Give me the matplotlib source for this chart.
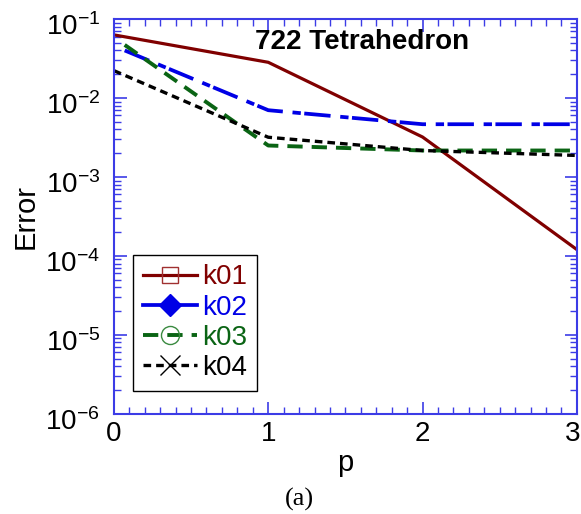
import matplotlib.pyplot as plt
import matplotlib.ticker as mticker
import matplotlib.transforms as mtransforms
from matplotlib.lines import Line2D
import numpy as np

plt.rcParams['font.family'] = ['Liberation Sans', 'DejaVu Sans']
plt.rcParams['mathtext.fontset'] = 'custom'
plt.rcParams['mathtext.rm'] = 'Liberation Sans'
plt.rcParams['lines.scale_dashes'] = False

# data
p_k01 = [0, 1, 2, 3]
err_k01 = [0.063, 0.0283, 0.0032, 0.00012]
p_k02 = [0.07, 1, 2, 3]
err_k02 = [0.040, 0.0070, 0.00465, 0.00465]
p_k03 = [0.07, 1, 2, 3]
err_k03 = [0.047, 0.0025, 0.00216, 0.00216]
p_k04 = [0, 1, 2, 3]
err_k04 = [0.0222, 0.00318, 0.00216, 0.00187]

labels = ["k01", "k02", "k03", "k04"]
x_ticks = [0, 1, 2, 3]
colors = ["#800000", "#0000e6", "#0a6414", "black"]
axis_blue = "#3c3ce6"
dash_k02 = (19, 7, 6, 2.5)
dash_k03 = (11, 6.5)
dash_k04 = (5.5, 3.6)

fig, ax = plt.subplots(figsize=(5.81, 5.14), dpi=100)
fig.subplots_adjust(left=0.196, right=0.993, top=0.963, bottom=0.195)

ax.plot(p_k01, err_k01, color=colors[0], lw=2.3, linestyle="-")
ax.plot(p_k02, err_k02, color=colors[1], lw=2.7, dashes=dash_k02)
ax.plot(p_k03, err_k03, color=colors[2], lw=2.8, dashes=dash_k03)
ax.plot(p_k04, err_k04, color=colors[3], lw=2.4, dashes=dash_k04)

ax.set_yscale("log")
ax.set_xlim(0, 3)
ax.set_ylim(1e-6, 1e-1)

ax.set_xticks(x_ticks)
ax.xaxis.set_minor_locator(mticker.MultipleLocator(0.1))
ax.yaxis.set_major_locator(mticker.LogLocator(base=10, numticks=10))
ax.yaxis.set_minor_locator(mticker.LogLocator(base=10, subs=np.arange(2, 10), numticks=10))
ax.yaxis.set_minor_formatter(mticker.NullFormatter())
ax.yaxis.set_major_formatter(mticker.FuncFormatter(
    lambda v, pos: r"$\mathregular{10^{%d}}$" % int(round(np.log10(v)))))

ax.tick_params(which="both", direction="in", top=True, right=True,
               color=axis_blue, labelsize=20)
ax.tick_params(axis="x", pad=5)
ax.tick_params(axis="y", pad=10)
ax.tick_params(which="major", length=9, width=1.2)
ax.tick_params(which="minor", length=5, width=1.0)
for s in ax.spines.values():
    s.set_color(axis_blue)
    s.set_linewidth(1.5)

# y labels in the reference sit a little below their ticks
shift = mtransforms.ScaledTranslation(0, -4 / 72, fig.dpi_scale_trans)
for lab in ax.get_yticklabels():
    lab.set_transform(lab.get_transform() + shift)
# the last x label is nudged left so it stays inside the figure
last = ax.get_xticklabels()[-1]
last.set_transform(last.get_transform() +
                   mtransforms.ScaledTranslation(-3 / 72, 0, fig.dpi_scale_trans))

ax.set_xlabel("p", fontsize=21, labelpad=2)
ax.set_ylabel("Error", fontsize=21, labelpad=4)
ax.text(0.536, 0.942, "722 Tetrahedron", transform=ax.transAxes, ha="center",
        va="center", fontsize=20, fontweight="bold")

handles = [
    Line2D([], [], color=colors[0], lw=2.3, marker="s", markersize=12,
           markerfacecolor="none", markeredgecolor="#a03030", markeredgewidth=1),
    Line2D([], [], color=colors[1], lw=2.7, marker="D", markersize=11,
           markerfacecolor=colors[1], markeredgecolor=colors[1]),
    Line2D([], [], color=colors[2], lw=2.8, dashes=dash_k03, marker="o",
           markersize=13, markerfacecolor="none", markeredgecolor="#3a8a40",
           markeredgewidth=1),
    Line2D([], [], color=colors[3], lw=2.4, dashes=dash_k04, marker="x",
           markersize=14, markeredgewidth=1),
]
leg = ax.legend(handles, labels, loc="upper left", bbox_to_anchor=(0.041, 0.403),
                borderaxespad=0, fontsize=20, handlelength=1.95, handletextpad=0.2,
                labelspacing=0.15, fancybox=False, edgecolor="black",
                framealpha=1, borderpad=0.35)
leg.get_frame().set_linewidth(1.0)
for t, c in zip(leg.get_texts(), colors):
    t.set_color(c)

fig.text(0.516, 0.029, "(a)", ha="center", va="center", fontsize=19,
         family="Liberation Serif")

plt.savefig("out.png")
